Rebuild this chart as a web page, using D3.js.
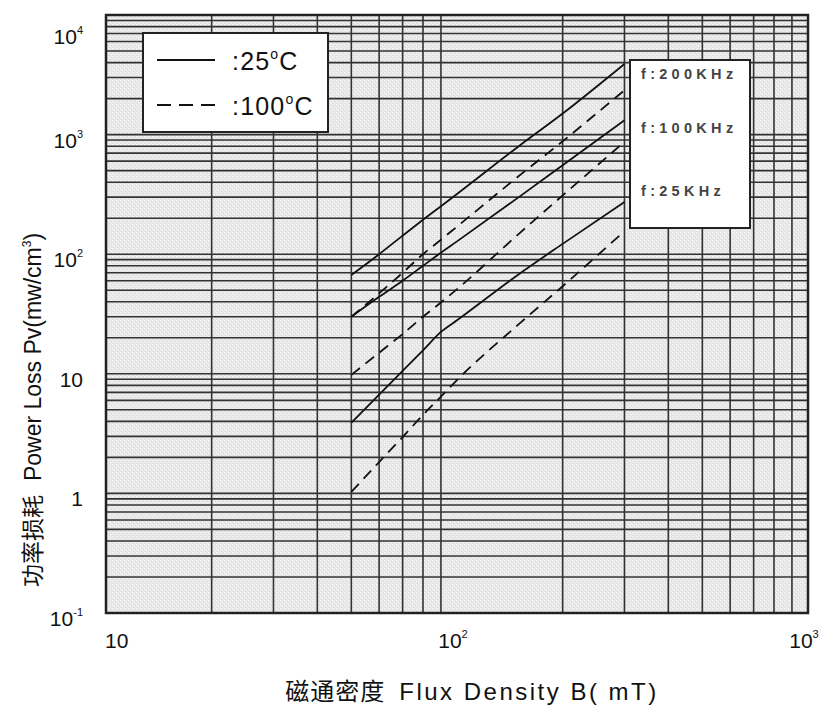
<!DOCTYPE html>
<html>
<head>
<meta charset="utf-8">
<script src="https://cdn.jsdelivr.net/npm/d3@7"></script>
<style>
  body { margin: 0; background: #fff; }
  text { font-family: "Liberation Sans", Arial, sans-serif; fill: #111; }
  .cjk { font-family: "Noto Sans CJK SC", "Liberation Sans", sans-serif; }
</style>
</head>
<body>
<svg id="chart" width="838" height="712"></svg>
<script>
// Flux density samples (mT) shared by every curve
const fluxDensity = [50, 60, 70, 80, 90, 100, 150, 200, 300];

// Core loss Pv (mW/cm3) at each flux density
const loss200k25C  = [67, 100, 143, 194, 252, 319, 800, 1500, 3900];
const loss200k100C = [30, 47, 70, 100, 132, 170, 450, 880, 2350];
const loss100k25C  = [30, 44, 60, 80, 103, 128, 300, 555, 1320];
const loss100k100C = [9.8, 15, 21.5, 30, 39.5, 51, 148, 310, 870];
const loss25k25C   = [3.9, 6.7, 10.6, 15.7, 22.4, 28, 68, 122, 273];
const loss25k100C  = [1.03, 1.83, 2.96, 4.53, 6.45, 8.87, 26, 54, 156];

const seriesValues = [loss200k25C, loss200k100C, loss100k25C,
                      loss100k100C, loss25k25C, loss25k100C];
const seriesDashed = [false, true, false, true, false, true];

const frequencyLabels = ["f:200KHz", "f:100KHz", "f:25KHz"];
const temperatureLabels = ["25", "100"];

// Axis tick labels: base and exponent
const xTickValues = [10, 100, 1000];
const xTickBase = ["10", "10", "10"];
const xTickExp = ["", "2", "3"];
const yTickValues = [0.1, 1, 10, 100, 1000, 10000];
const yTickBase = ["10", "1", "10", "10", "10", "10"];
const yTickExp = ["-1", "", "", "2", "3", "4"];

const xTitleCn = "磁通密度";
const xTitleEn = "Flux Density B( mT)";
const yTitleCn = "功率损耗";
const yTitleEn = "Power Loss Pv(mw/cm";

const svg = d3.select("#chart");
const plot = { left: 106, right: 808, top: 15, bottom: 613 };

const x = d3.scaleLog().domain([10, 1000]).range([plot.left, plot.right]);
const y = d3.scaleLog().domain([0.1, 10000]).range([plot.bottom, plot.top]);

// Paper texture for the plotting area
const defs = svg.append("defs");
const pat = defs.append("pattern")
  .attr("id", "paper").attr("patternUnits", "userSpaceOnUse")
  .attr("width", 4).attr("height", 4);
pat.append("rect").attr("width", 4).attr("height", 4).attr("fill", "#e9e9e9");
pat.append("rect").attr("x", 0).attr("y", 0).attr("width", 1).attr("height", 1).attr("fill", "#f7f7f7");
pat.append("rect").attr("x", 2).attr("y", 2).attr("width", 1).attr("height", 1).attr("fill", "#f7f7f7");
pat.append("rect").attr("x", 1).attr("y", 3).attr("width", 1).attr("height", 1).attr("fill", "#dadada");
pat.append("rect").attr("x", 3).attr("y", 1).attr("width", 1).attr("height", 1).attr("fill", "#dadada");

svg.append("rect")
  .attr("x", plot.left).attr("y", plot.top)
  .attr("width", plot.right - plot.left).attr("height", plot.bottom - plot.top)
  .attr("fill", "url(#paper)");

// Log grid: 1..9 per decade
const xGridVals = [];
for (let d = 10; d < 1000; d *= 10) for (let m = 2; m <= 9; m++) xGridVals.push(d * m);
const yGridVals = [];
for (let d = 0.1; d < 9999; d *= 10) for (let m = 1; m <= 9; m++) {
  const v = +(d * m).toPrecision(6);
  if (v > 0.1) yGridVals.push(v);
}

const grid = svg.append("g").attr("stroke", "#333").attr("stroke-width", 1.6);
grid.selectAll("line.vx").data(xGridVals).join("line")
  .attr("x1", d => x(d)).attr("x2", d => x(d))
  .attr("y1", plot.top).attr("y2", plot.bottom);
grid.selectAll("line.hy").data(yGridVals).join("line")
  .attr("x1", plot.left).attr("x2", plot.right)
  .attr("y1", d => y(d)).attr("y2", d => y(d));

// Frame
svg.append("rect")
  .attr("x", plot.left).attr("y", plot.top)
  .attr("width", plot.right - plot.left).attr("height", plot.bottom - plot.top)
  .attr("fill", "none").attr("stroke", "#222").attr("stroke-width", 2.5);

// Loss curves
const line = d3.line()
  .x(d => x(d[0])).y(d => y(d[1]))
  .curve(d3.curveMonotoneX);

svg.append("g").selectAll("path").data(seriesValues).join("path")
  .attr("d", vals => line(fluxDensity.map((b, i) => [b, vals[i]])))
  .attr("fill", "none").attr("stroke", "#111").attr("stroke-width", 1.8)
  .attr("stroke-dasharray", (d, i) => seriesDashed[i] ? "11,7" : null);

// Temperature legend
const lg = svg.append("g");
lg.append("rect").attr("x", 143).attr("y", 33).attr("width", 185).attr("height", 99)
  .attr("fill", "#fff").attr("stroke", "#222").attr("stroke-width", 2);
temperatureLabels.forEach((t, i) => {
  const cy = 60 + i * 45;
  lg.append("line").attr("x1", 157).attr("x2", 215).attr("y1", cy).attr("y2", cy)
    .attr("stroke", "#111").attr("stroke-width", 1.8)
    .attr("stroke-dasharray", i === 1 ? "14,8" : null);
  const tx = lg.append("text").attr("x", 232).attr("y", cy + 10)
    .attr("font-size", 25).attr("letter-spacing", 1.2);
  tx.append("tspan").text(":" + t);
  tx.append("tspan").attr("font-size", 14).attr("dy", -11).text("o");
  tx.append("tspan").attr("dy", 11).text("C");
});

// Frequency labels box
const fb = svg.append("g");
fb.append("rect").attr("x", 630).attr("y", 60).attr("width", 120).attr("height", 168)
  .attr("fill", "#fff").attr("stroke", "#222").attr("stroke-width", 2);
fb.selectAll("text").data(frequencyLabels).join("text")
  .attr("x", 641).attr("y", (d, i) => [79, 133, 196][i])
  .attr("font-size", 14.5).attr("font-weight", "bold")
  .attr("letter-spacing", 4.3).style("fill", "#444")
  .text(d => d);

// Y tick labels
const yl = svg.append("g");
yTickValues.forEach((v, i) => {
  const cy = Math.max(y(v) + 5, plot.top + 21);
  const t = yl.append("text").attr("x", 83).attr("y", cy + 8)
    .attr("text-anchor", "end").attr("font-size", 21);
  t.append("tspan").text(yTickBase[i]);
  if (yTickExp[i]) t.append("tspan").attr("font-size", 11).attr("dy", -10).text(yTickExp[i]);
});

// X tick labels
const xl = svg.append("g");
xTickValues.forEach((v, i) => {
  const t = xl.append("text").attr("x", i === 0 ? x(v) - 1 : x(v) - 4).attr("y", 648)
    .attr("text-anchor", i === 0 ? "start" : "middle").attr("font-size", 21);
  t.append("tspan").text(xTickBase[i]);
  if (xTickExp[i]) t.append("tspan").attr("font-size", 11).attr("dy", -10).text(xTickExp[i]);
});

// Axis titles
const xt = svg.append("text").attr("x", 472).attr("y", 700)
  .attr("text-anchor", "middle").attr("font-size", 24);
xt.append("tspan").attr("class", "cjk").attr("letter-spacing", 1).text(xTitleCn);
xt.append("tspan").attr("dx", 14).attr("letter-spacing", 2.5).text(xTitleEn);

const yt = svg.append("text")
  .attr("transform", "translate(41,410) rotate(-90)")
  .attr("text-anchor", "middle").attr("font-size", 23);
yt.append("tspan").attr("class", "cjk").text(yTitleCn);
yt.append("tspan").attr("dx", 14).text(yTitleEn);
yt.append("tspan").attr("font-size", 12).attr("dy", -10).text("3");
yt.append("tspan").attr("dy", 10).text(")");
</script>
</body>
</html>
